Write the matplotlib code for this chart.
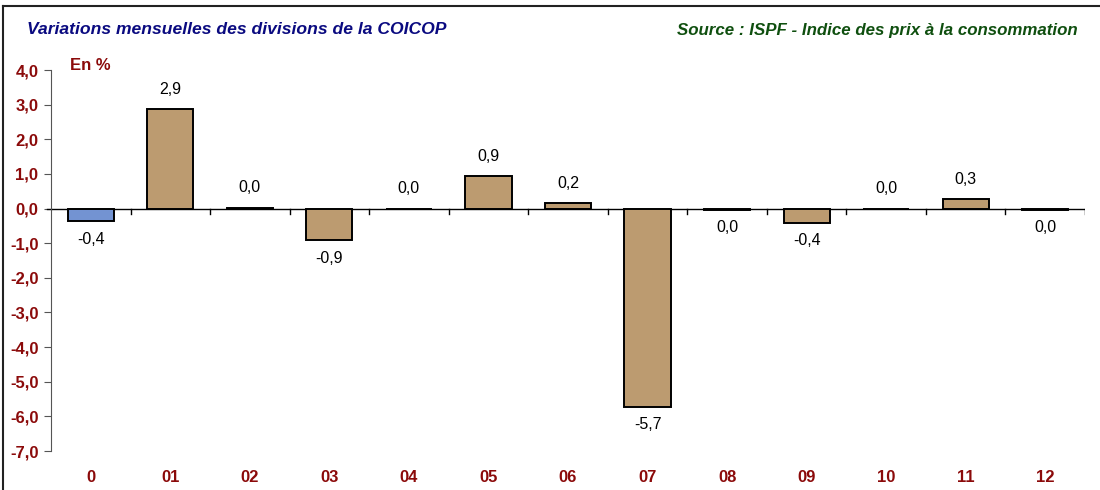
import matplotlib.pyplot as plt
from matplotlib.lines import Line2D

categories = ['0', '01', '02', '03', '04', '05', '06', '07', '08', '09', '10', '11', '12']
variations = [-0.37, 2.87, 0.03, -0.92, 0.0, 0.93, 0.16, -5.72, -0.03, -0.41, 0.0, 0.28, -0.03]
bar_colors = ['#7393D2'] + ['#BC9B70'] * 12
y_ticks = [4.0, 3.0, 2.0, 1.0, 0.0, -1.0, -2.0, -3.0, -4.0, -5.0, -6.0, -7.0]

plt.rcParams['font.family'] = ['Liberation Sans', 'DejaVu Sans']

red = '#8B0A0A'

fig = plt.figure(figsize=(11, 4.9), dpi=100)
ax = fig.add_axes([51 / 1100, 1 - 451 / 490, 1034 / 1100, 381 / 490])

x = list(range(len(categories)))
ax.bar(x, variations, width=0.58, color=bar_colors, edgecolor='black', linewidth=1.4, zorder=3)

def fmt(v):
    r = round(v, 1)
    if r == 0:
        r = 0.0
    return ('%.1f' % r).replace('.', ',')

for xi, v in zip(x, variations):
    if v < 0 or (v == 0 and xi in (8, 12)):
        ax.text(xi, v - 0.3, fmt(v), ha='center', va='top', fontsize=11.5, color='black')
    else:
        ax.text(xi, v + 0.35, fmt(v), ha='center', va='bottom', fontsize=11.5, color='black')

ax.set_xlim(-0.5, 12.5)
ax.set_ylim(-7.0, 4.0)
ax.set_yticks(y_ticks)
ax.set_yticklabels([('%.1f' % t).replace('.', ',') for t in y_ticks],
                   fontsize=12, fontweight='bold', color=red)
ax.tick_params(axis='y', direction='out', length=5, color='#555555', pad=4)

ax.set_xticks(x)
ax.set_xticklabels(categories, fontsize=12, fontweight='bold', color=red)
ax.tick_params(axis='x', length=0, pad=14)

for side in ['top', 'right', 'bottom']:
    ax.spines[side].set_visible(False)
ax.spines['left'].set_color('#555555')

# axe horizontal a zero avec graduations entre categories
ax.axhline(0, color='black', linewidth=1.0, zorder=2)
for b in [i + 0.5 for i in range(-1, 13)]:
    if b > -0.5:
        ax.plot([b, b], [0, -0.17], color='black', linewidth=1.0, zorder=2)
ax.plot([-0.55, -0.5], [0, 0], color='black', linewidth=1.0, clip_on=False)

fig.text(27 / 1100, 1 - 30 / 490, 'Variations mensuelles des divisions de la COICOP',
         fontsize=12.6, fontweight='bold', style='italic', color='#0A0A80', va='center')
fig.text(1078 / 1100, 1 - 30 / 490, 'Source : ISPF - Indice des prix à la consommation',
         fontsize=12.2, fontweight='bold', style='italic', color='#0F4F0F', va='center', ha='right')
fig.text(70 / 1100, 1 - 65 / 490, 'En %', fontsize=12, fontweight='bold', color=red, va='center')

# cadre
fig.add_artist(Line2D([3 / 1100, 3 / 1100], [0, 1 - 6 / 490], color='#222222', linewidth=1.5))
fig.add_artist(Line2D([3 / 1100, 1], [1 - 6 / 490, 1 - 6 / 490], color='#222222', linewidth=1.5))

fig.savefig('out.png', dpi=100)
